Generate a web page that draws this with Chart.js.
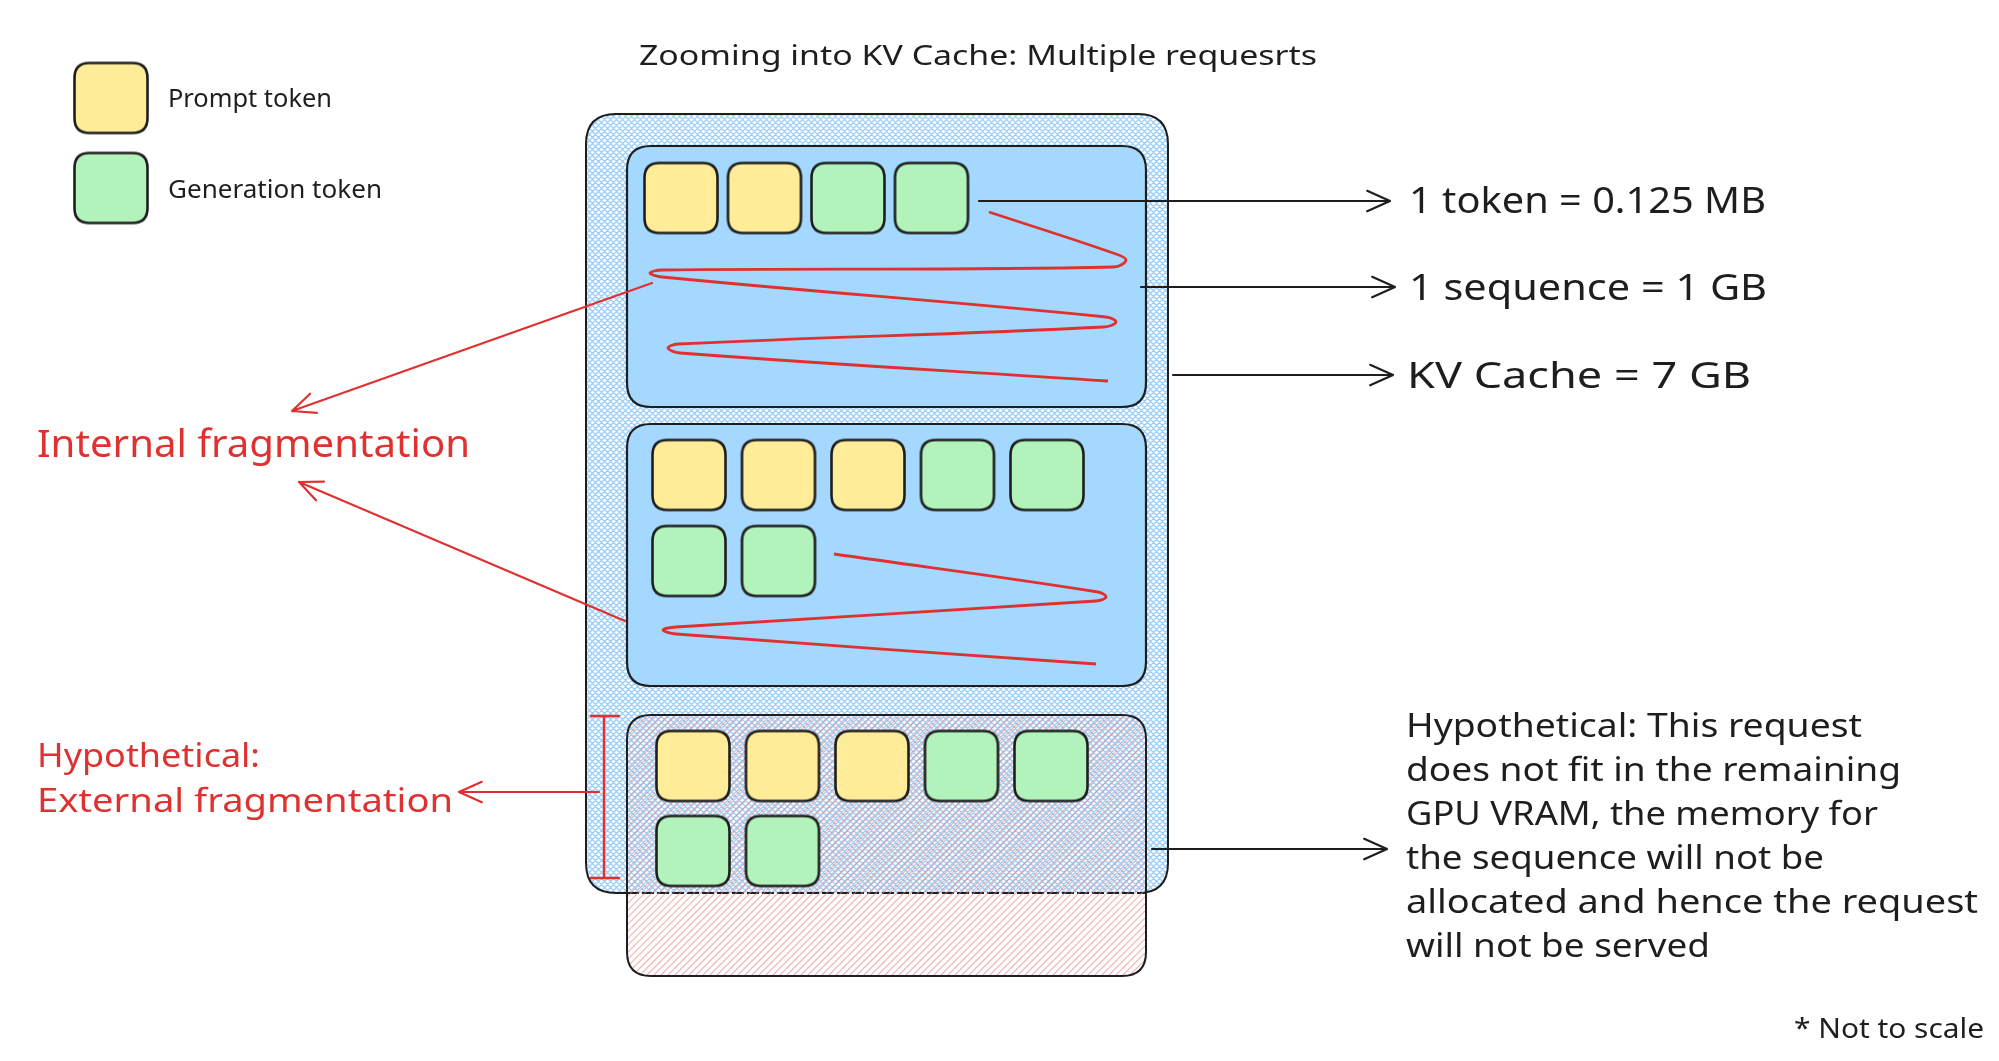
<!DOCTYPE html>
<html>
<head>
<meta charset="utf-8">
<script src="https://cdn.jsdelivr.net/npm/chart.js@4.4.1/dist/chart.umd.min.js"></script>
<style>
  html, body { margin: 0; padding: 0; background: #fff; }
  #wrap { width: 1999px; height: 1061px; }
</style>
</head>
<body>
<div id="wrap"><canvas id="c"></canvas></div>
<script>
// ---- what the diagram says ----
const titleText = 'Zooming into KV Cache: Multiple requesrts';
const tokenTypes = ['Prompt token', 'Generation token'];
const tokenKinds = ['P', 'G'];
const requests = [
  ['P', 'P', 'G', 'G'],
  ['P', 'P', 'P', 'G', 'G', 'G', 'G'],
  ['P', 'P', 'P', 'G', 'G', 'G', 'G']
];
const sizeLabels = ['1 token = 0.125 MB', '1 sequence = 1 GB', 'KV Cache = 7 GB'];
const internalLabel = 'Internal fragmentation';
const externalLabel = ['Hypothetical:', 'External fragmentation'];
const hypoNote = [
  'Hypothetical: This request',
  'does not fit in the remaining',
  'GPU VRAM, the memory for',
  'the sequence will not be',
  'allocated and hence the request',
  'will not be served'
];
const footNote = '* Not to scale';

// ---- layout (diagram units, 0,0 = top left) ----
const W = 1999, H = 1061;
const BLACK = '#1e1e1e', RED = '#e03131';
const tokenFill = { P: '#ffec99', G: '#b2f2bb' };
const legendPos = [{ x: 111, y: 98 }, { x: 111, y: 188 }];
const legendText = [{ x: 168, y: 107, w: 164 }, { x: 168, y: 198, w: 214 }];
const outerBox = { x: 586, y: 114, w: 582, h: 779, r: 30 };
const seqBoxes = [
  { x: 627, y: 146, w: 519, h: 261, r: 24 },
  { x: 627, y: 424, w: 519, h: 262, r: 24 },
  { x: 627, y: 715, w: 519, h: 261, r: 24 }
];
const tokenGrid = [
  { x0: 681, y0: 198, dx: 83.5, dy: 0, perRow: 5 },
  { x0: 689, y0: 475, dx: 89.5, dy: 86, perRow: 5 },
  { x0: 693, y0: 766, dx: 89.5, dy: 85, perRow: 5 }
];
// wasted space squiggles inside sequence 1 and 2
const waste1 = [
  [989, 212], [1116, 254], [1126, 260], [1114, 267], [662, 270], [650, 273], [662, 277],
  [1106, 317], [1116, 322], [1104, 327], [678, 344], [668, 348], [680, 353], [1108, 381]
];
const waste2 = [
  [834, 554], [1098, 592], [1106, 597], [1096, 601], [676, 627], [663, 630], [676, 634], [1096, 664]
];
const blackArrows = [
  [979, 201, 1390, 201], [1141, 287, 1395, 287], [1173, 375, 1393, 375], [1152, 849, 1387, 849]
];
const redArrows = [[652, 283, 292, 411], [625, 621, 299, 482], [599, 792, 459, 792]];
const sizeLabelPos = [{ x: 1409, y: 213, w: 357 }, { x: 1409, y: 300, w: 358 }, { x: 1407, y: 388, w: 344 }];

function tokenPoints(kind) {
  const pts = [];
  requests.forEach((seq, r) => {
    const g = tokenGrid[r];
    seq.forEach((t, i) => {
      if (t !== kind) return;
      const col = i % g.perRow, row = Math.floor(i / g.perRow);
      pts.push({ x: g.x0 + col * g.dx, y: g.y0 + row * g.dy });
    });
  });
  return pts;
}

function roundPath(ctx, x, y, w, h, r) {
  ctx.beginPath();
  ctx.moveTo(x + r, y);
  ctx.lineTo(x + w - r, y);
  ctx.quadraticCurveTo(x + w, y, x + w, y + r);
  ctx.lineTo(x + w, y + h - r);
  ctx.quadraticCurveTo(x + w, y + h, x + w - r, y + h);
  ctx.lineTo(x + r, y + h);
  ctx.quadraticCurveTo(x, y + h, x, y + h - r);
  ctx.lineTo(x, y + r);
  ctx.quadraticCurveTo(x, y, x + r, y);
  ctx.closePath();
}

function tokenImage(fill) {
  const c = document.createElement('canvas');
  c.width = 78; c.height = 75;
  const g = c.getContext('2d');
  roundPath(g, 2.5, 2.5, 73, 70, 15);
  g.fillStyle = fill; g.fill();
  g.lineWidth = 2.6; g.strokeStyle = BLACK; g.stroke();
  return c;
}

const diagram = {
  id: 'diagram',
  beforeDatasetsDraw(chart) {
    const ctx = chart.ctx, X = chart.scales.x, Y = chart.scales.y;
    const px = v => X.getPixelForValue(v), py = v => Y.getPixelForValue(v);
    const rr = (b) => roundPath(ctx, px(b.x), py(b.y), px(b.x + b.w) - px(b.x), py(b.y + b.h) - py(b.y), b.r);

    // KV cache: blue cross hatch
    ctx.save();
    rr(outerBox); ctx.clip();
    ctx.strokeStyle = '#9ccff9'; ctx.lineWidth = 1.3;
    const x0 = px(outerBox.x), x1 = px(outerBox.x + outerBox.w);
    const y0 = py(outerBox.y), y1 = py(outerBox.y + outerBox.h), hh = y1 - y0;
    ctx.beginPath();
    for (let a = x0 - hh; a < x1 + hh; a += 6) {
      ctx.moveTo(a, y0); ctx.lineTo(a + hh, y1);
      ctx.moveTo(a, y1); ctx.lineTo(a + hh, y0);
    }
    ctx.stroke();
    ctx.restore();

    // outer stroke, dashed where the hypothetical request overlaps
    const hb = seqBoxes[2];
    ctx.save();
    ctx.beginPath();
    ctx.rect(0, 0, chart.width, chart.height);
    ctx.rect(px(hb.x) + 2, py(hb.y) + 2, px(hb.x + hb.w) - px(hb.x) - 4, chart.height);
    ctx.clip('evenodd');
    rr(outerBox); ctx.strokeStyle = BLACK; ctx.lineWidth = 2; ctx.stroke();
    ctx.restore();
    ctx.save();
    ctx.setLineDash([12, 3]);
    ctx.strokeStyle = BLACK; ctx.lineWidth = 1.8;
    ctx.beginPath();
    ctx.moveTo(px(hb.x), py(outerBox.y + outerBox.h));
    ctx.lineTo(px(hb.x + hb.w), py(outerBox.y + outerBox.h));
    ctx.stroke();
    ctx.restore();

    // allocated sequences
    for (let i = 0; i < 2; i++) {
      rr(seqBoxes[i]);
      ctx.fillStyle = '#a5d8ff'; ctx.fill();
      ctx.strokeStyle = BLACK; ctx.lineWidth = 2.2; ctx.stroke();
    }

    // hypothetical request: red hachure
    ctx.save();
    rr(hb); ctx.clip();
    const bx0 = px(hb.x), bx1 = px(hb.x + hb.w), by0 = py(hb.y), by1 = py(hb.y + hb.h), bh = by1 - by0;
    ctx.strokeStyle = 'rgba(230,130,130,0.6)'; ctx.lineWidth = 1.2;
    ctx.beginPath();
    for (let a = bx0 - bh; a < bx1 + bh; a += 7) {
      ctx.moveTo(a, by1); ctx.lineTo(a + bh, by0);
    }
    ctx.stroke();
    ctx.restore();
    rr(hb); ctx.strokeStyle = BLACK; ctx.lineWidth = 2; ctx.stroke();
  },
  afterDatasetsDraw(chart) {
    const ctx = chart.ctx, X = chart.scales.x, Y = chart.scales.y;
    const px = v => X.getPixelForValue(v), py = v => Y.getPixelForValue(v);

    const arrow = (a, color) => {
      const [xa, ya, xb, yb] = a;
      const ang = Math.atan2(py(yb) - py(ya), px(xb) - px(xa));
      ctx.strokeStyle = color; ctx.lineWidth = 2.2; ctx.lineCap = 'round';
      ctx.beginPath();
      ctx.moveTo(px(xa), py(ya)); ctx.lineTo(px(xb), py(yb));
      for (const s of [-1, 1]) {
        ctx.moveTo(px(xb), py(yb));
        ctx.lineTo(px(xb) - 25 * Math.cos(ang + s * 0.42), py(yb) - 25 * Math.sin(ang + s * 0.42));
      }
      ctx.stroke();
    };
    blackArrows.forEach(a => arrow(a, BLACK));
    redArrows.forEach(a => arrow(a, RED));

    // bracket marking the leftover gap
    ctx.strokeStyle = RED; ctx.lineWidth = 2.4;
    ctx.beginPath();
    ctx.moveTo(px(604), py(716)); ctx.lineTo(px(604), py(878));
    ctx.moveTo(px(591), py(716)); ctx.lineTo(px(619), py(716));
    ctx.moveTo(px(591), py(878)); ctx.lineTo(px(619), py(878));
    ctx.stroke();

    const text = (str, x, y, w, size, color) => {
      ctx.font = size + 'px "Noto Sans"';
      const m = ctx.measureText(str).width;
      ctx.save();
      ctx.translate(px(x), py(y));
      ctx.scale((px(x + w) - px(x)) / m, 1);
      ctx.fillStyle = color; ctx.textBaseline = 'alphabetic';
      ctx.fillText(str, 0, 0);
      ctx.restore();
    };
    text(titleText, 639, 65, 678, 28, BLACK);
    tokenTypes.forEach((t, i) => text(t, legendText[i].x, legendText[i].y, legendText[i].w, 25, BLACK));
    sizeLabels.forEach((t, i) => text(t, sizeLabelPos[i].x, sizeLabelPos[i].y, sizeLabelPos[i].w, 37, BLACK));
    text(internalLabel, 37, 457, 433, 39, RED);
    text(externalLabel[0], 37, 767, 223, 33, RED);
    text(externalLabel[1], 37, 812, 416, 33, RED);
    const hypoW = [456, 495, 472, 418, 572, 304];
    hypoNote.forEach((t, i) => text(t, 1406, 737 + i * 44, hypoW[i], 32, BLACK));
    text(footNote, 1794, 1038, 190, 27, BLACK);
  }
};

const xy = p => ({ x: p[0], y: p[1] });
const datasets = tokenKinds.map((k, i) => ({
  label: tokenTypes[i],
  data: [legendPos[i]].concat(tokenPoints(k)),
  pointStyle: tokenImage(tokenFill[k]),
  showLine: false
}));
[waste1, waste2].forEach((w, i) => datasets.push({
  label: 'unused ' + (i + 1),
  data: w.map(xy),
  showLine: true,
  tension: 0.4,
  borderColor: RED,
  borderWidth: 2.8,
  pointRadius: 0
}));

new Chart(document.getElementById('c'), {
  type: 'scatter',
  data: { datasets },
  options: {
    responsive: true,
    maintainAspectRatio: false,
    animation: false,
    events: [],
    layout: { padding: 0, autoPadding: false },
    plugins: { legend: { display: false }, tooltip: { enabled: false } },
    scales: {
      x: { type: 'linear', min: 0, max: W, display: false },
      y: { type: 'linear', min: 0, max: H, reverse: true, display: false }
    }
  },
  plugins: [diagram]
});
</script>
</body>
</html>
